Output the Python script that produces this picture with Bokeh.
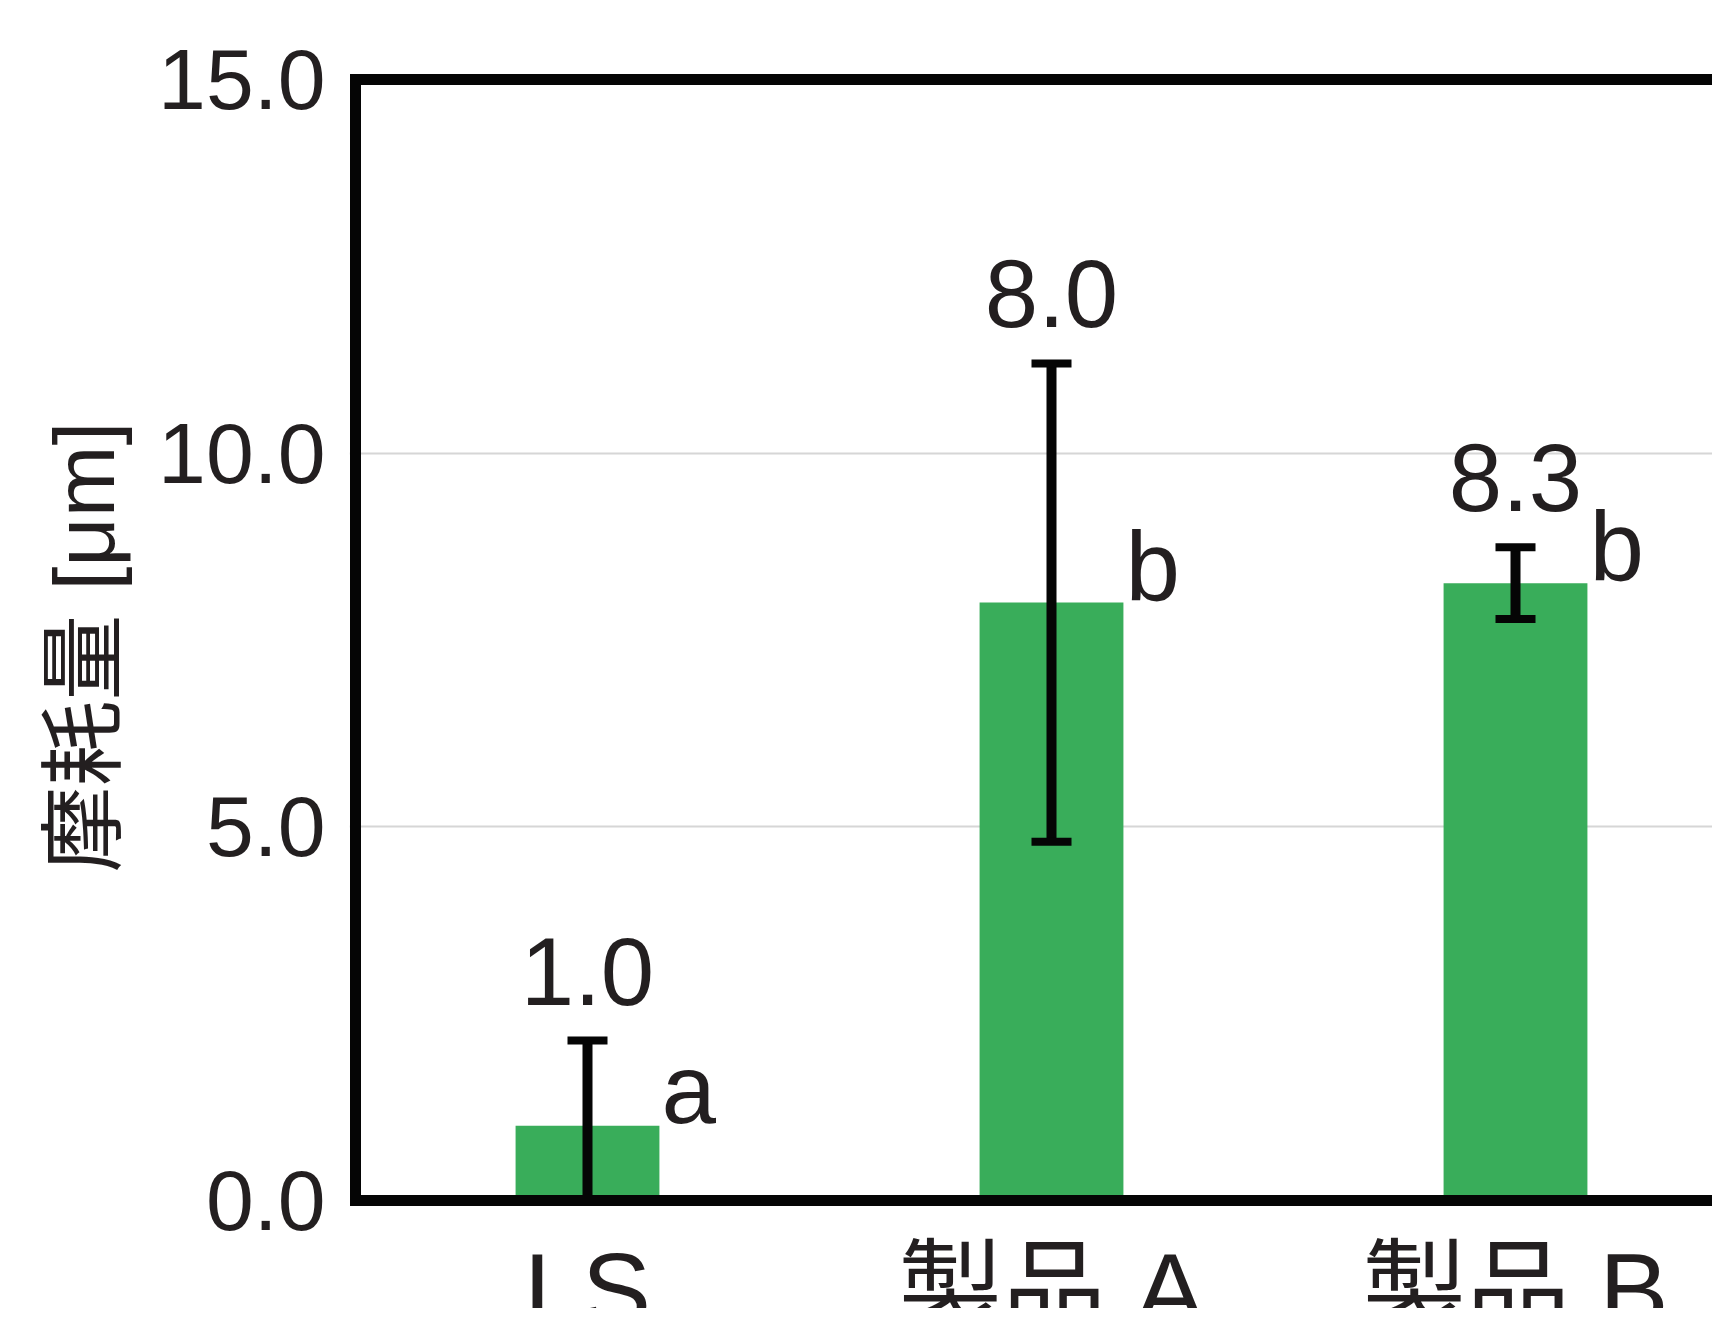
from bokeh.plotting import figure
from bokeh.models import ColumnDataSource, LabelSet, FixedTicker, Range1d, PrintfTickFormatter, Title
from bokeh.core.properties import value
from bokeh.embed import file_html
from bokeh.resources import INLINE

# ---- data ----
categories = ["LS", "製品 A", "製品 B"]
means = [1.0, 8.0, 8.26]
sds = [1.14, 3.2, 0.48]
value_labels = ["1.0", "8.0", "8.3"]
group_letters = ["a", "b", "b"]
y_ticks = [0, 5, 10, 15]
y_label = "摩耗量 [μm]"

# ---- styles / layout ----
W, H = 1712, 1308
PX_X = 464.0          # px per category slot
PX_Y = 74.73          # px per y unit
LINE_PAD = 6          # px of room so the frame lines are not clipped
FRAME_LEFT = 355 - LINE_PAD
FRAME_TOP = 79 - LINE_PAD
BAR_W = 0.31
GREEN = "#39ad5a"
INK = "#231f20"
LINE = "#050505"
LATIN = "Liberation Sans"
MIXED = "Liberation Sans, Noto Sans CJK JP"

xs = [i + 0.5 for i in range(len(categories))]
upper = [m + s for m, s in zip(means, sds)]
lower = [max(m - s, y_ticks[0]) for m, s in zip(means, sds)]

y_lo, y_hi = y_ticks[0], y_ticks[-1]
x_start = -LINE_PAD / PX_X
x_end = (W - FRAME_LEFT - LINE_PAD) / PX_X
y_end = y_hi + LINE_PAD / PX_Y
y_start = y_end - (H - FRAME_TOP) / PX_Y

src = ColumnDataSource(dict(x=xs, cat=categories, mean=means, up=upper, lo=lower,
                            vlab=value_labels, letter=group_letters,
                            xr=[x + BAR_W / 2 for x in xs]))

p = figure(width=W, height=H, output_backend="svg", toolbar_location=None,
           x_range=Range1d(x_start, x_end), y_range=Range1d(y_start, y_end),
           min_border_left=FRAME_LEFT, min_border_right=0, min_border_top=FRAME_TOP,
           min_border_bottom=0)
p.outline_line_color = None
p.background_fill_color = "white"
p.border_fill_color = "white"
p.xaxis.visible = False

# grid
p.xgrid.visible = False
p.ygrid.ticker = FixedTicker(ticks=y_ticks[1:-1])
p.ygrid.grid_line_color = "#d6d6d6"
p.ygrid.grid_line_width = 2

# bars
p.vbar(x="x", top="mean", bottom=y_lo, width=BAR_W, source=src, fill_color=GREEN, line_color=None)

# error bars
p.segment(x0="x", y0="lo", x1="x", y1="up", source=src, line_width=10, line_color=LINE)
p.rect(x="x", y="up", width=40, height=8, width_units="screen", height_units="screen",
       source=src, fill_color=LINE, line_color=None)
p.rect(x="x", y="lo", width=40, height=8, width_units="screen", height_units="screen",
       source=src, fill_color=LINE, line_color=None)

# plot frame (left, top, bottom; the right side is open as in the reference)
p.segment(x0=[0, 0, 0], y0=[y_lo, y_hi, y_lo], x1=[0, x_end + 1, x_end + 1], y1=[y_hi, y_hi, y_lo],
          line_width=11, line_color=LINE, line_cap="square")

# value labels
p.add_layout(LabelSet(x="x", y="up", text="vlab", source=src, y_offset=36,
                      text_align="center", text_baseline="alphabetic",
                      text_font=value(LATIN), text_font_size="96px", text_color=INK))
# significance letters
p.add_layout(LabelSet(x="xr", y="mean", text="letter", source=src, x_offset=2, y_offset=3,
                      text_align="left", text_baseline="alphabetic",
                      text_font=value(LATIN), text_font_size="98px", text_color=INK))
# category labels
p.text(x="x", y=y_lo, text="cat", source=src, y_offset=90,
       text_align="center", text_baseline="alphabetic",
       text_font=value(MIXED), text_font_size="104px", text_color=INK)

# y axis
ya = p.yaxis[0]
ya.ticker = FixedTicker(ticks=y_ticks)
ya.formatter = PrintfTickFormatter(format="%.1f")
ya.axis_line_color = None
ya.major_tick_line_color = None
ya.minor_tick_line_color = None
ya.major_label_standoff = 18
ya.major_label_text_font = LATIN
ya.major_label_text_font_size = "86px"
ya.major_label_text_color = INK

# y axis title, placed by its lower end
ytitle = Title(text=y_label, align="left", offset=H - 872, standoff=48,
               text_font=MIXED, text_font_size="86px", text_font_style="normal",
               text_color=INK)
p.add_layout(ytitle, "left")

open("out.html", "w").write(file_html(p, INLINE))
